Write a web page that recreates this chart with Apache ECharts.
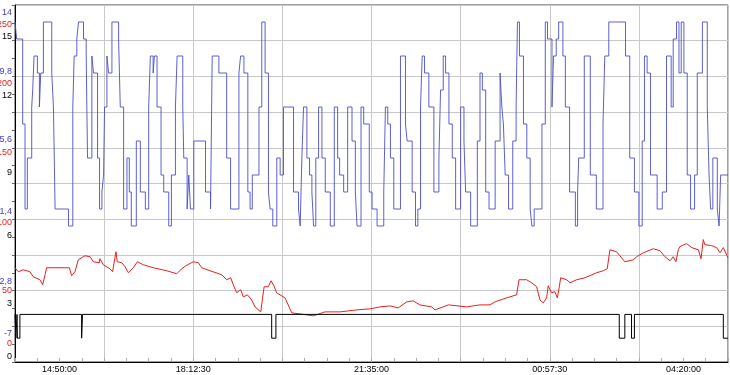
<!DOCTYPE html>
<html><head><meta charset="utf-8">
<script src="https://cdn.jsdelivr.net/npm/echarts@6/dist/echarts.min.js"></script>
<style>html,body{margin:0;padding:0;background:#fff}#c{width:730px;height:375px}</style>
</head><body><div id="c"></div>
<script>
// x is measured in minor-tick tenths (0..320, a grid column = 40)
const blueSteps = [[0,13],[0.75,12],[3.45,7],[4.5,2],[5.55,5],[7.5,8],[7.95,9],[8.55,11],[10.05,10],[10.95,8],[11.55,10],[12.75,13],[16.5,10],[17.25,8],[18,2],[24,1],[25.95,8],[26.55,11],[27.75,12],[28.5,13],[30.75,12],[31.95,11],[32.55,5],[34.5,11],[35.25,10],[37.05,5],[37.95,2],[39,3],[39.75,4],[40.2,8],[41.25,11],[42,10],[43.5,13],[46.5,12],[47.25,8],[48.75,2],[50.25,5],[51.3,3],[52.2,1],[54.45,6],[56.25,3],[58.5,2],[60,8],[60.75,11],[62,10],[62.55,11],[63.75,8],[65.55,4],[66.75,3],[69,1],[70.2,4],[72,8],[72.75,11],[75.3,8],[75.75,5],[77.25,2],[78,4],[78.75,2],[80.25,6],[85.5,3],[87.75,2],[88.5,11],[91.5,10],[95,5],[96.75,2],[100.5,10],[101.25,11],[102.75,10],[104.5,3],[105.5,2],[106.5,4],[109.5,8],[110.75,13],[112.25,10],[113.75,3],[114.5,2],[115.7,1],[117.5,5],[119,4],[120.5,8],[125,3],[127.25,2],[128,1],[128.75,5],[129.5,8],[131,5],[132.2,4],[133.25,3],[134,1],[135,5],[136.25,8],[137.75,5],[139.25,3],[141.5,1],[143.3,8],[144.8,5],[145.7,4],[147.5,3],[149.3,8],[151.25,6],[152.75,3],[153.5,1],[155.3,8],[156.5,7],[159,3],[160.25,2],[162.5,1],[165.5,3],[166.25,8],[167.3,7],[168.5,5],[170,2],[173,11],[175.25,7],[176,6],[178.25,3],[179.75,1],[180.8,2],[182,8],[182.75,11],[183.8,10],[185.75,8],[188,3],[190.25,5],[191,9],[192.2,11],[193.25,10],[194.75,7],[196.25,5],[197.75,2],[200,8],[201.5,6],[202.25,3],[204.5,1],[207.5,6],[208.7,10],[209.75,9],[211.25,3],[212.75,2],[215.5,6],[217.7,10],[218.5,8],[219.2,7],[220,4],[221.5,2],[223.4,6],[224.9,8],[225.5,13],[226.4,11],[228.2,7],[229.7,5],[231.2,2],[232,1],[233,2],[236.5,7],[238,13],[239,12],[241,8],[241.7,11],[242.9,12],[244,13],[245.9,11],[247,8],[248.9,3],[251.5,1],[252.5,3],[253,5],[255.5,11],[258.2,4],[260.9,2],[263.9,7],[264.7,11],[266.5,13],[274,11],[275.9,5],[278,3],[280,1],[281.5,6],[282.5,11],[283.7,10],[285.2,4],[288.2,2],[290.5,3],[292.4,11],[294.5,8],[295.4,12],[296.9,13],[298,10],[299,13],[300.2,10],[301.7,4],[303.2,2],[305,4],[306.2,10],[308.5,13],[310.7,8],[311.5,4],[312.2,2],[313.2,5],[315.2,2],[316,1],[316.7,4],[320,4]];

const redT = [0,1.5,3.7,6.7,8.2,11.2,12.4,13.5,14.2,24.4,25.4,26.9,28.4,31.4,33.7,35.2,37.8,38.1,39.6,42.6,43.8,45.3,45.9,47.9,49.4,50.9,53.1,54.9,57.6,62.1,68.1,72.6,74.8,76.7,80.0,82.3,83.8,87.5,92.8,95.0,96.8,98.3,99.5,101.3,102.5,104.3,106.2,107.7,110.3,111.8,113.7,114.9,116.2,117.4,121.2,124.2,127.9,133.9,139.1,145.9,153.3,159.3,163.8,168.3,172.0,175.8,178.7,181.7,187.0,188.5,194.5,202.7,208.7,213.2,215.4,220.6,221.4,225.1,226.2,229.6,231.9,234.1,235.6,237.1,238.6,239.3,240.8,242.3,243.4,244.3,244.9,247.6,249.1,252.1,255.8,261.0,264.0,265.8,267.0,270.0,273.7,277.5,279.0,282.0,286.5,289.5,291.7,294.0,295.4,296.6,297.7,298.4,301.4,303.7,306.7,307.9,308.9,309.6,312.6,314.9,316.4,317.9,320];
const redV = [66.0,63.2,64.6,63.2,59.7,57.6,54.1,61.1,66.0,66.0,60.4,63.2,71.6,74.4,73.7,70.2,69.5,72.3,68.1,65.3,63.2,77.2,70.2,69.5,66.7,62.5,66.0,70.2,68.1,66.0,63.9,61.8,65.3,67.4,70.2,69.5,66.0,63.9,61.1,57.6,59.0,52.7,48.5,50.6,45.6,47.0,43.5,38.6,35.1,52.7,52.7,56.9,53.4,48.5,44.9,34.4,33.7,32.3,35.1,35.1,36.5,37.2,38.6,39.3,37.9,42.1,42.8,40.0,38.6,36.5,40.0,38.6,40.0,40.0,42.1,44.9,46.3,47.0,57.6,57.6,55.5,52.7,43.5,41.4,44.9,53.4,48.5,49.2,44.9,52.7,59.0,57.6,55.5,57.6,59.0,62.5,63.9,65.3,78.6,77.2,70.2,71.6,73.7,76.5,79.3,77.9,73.7,70.9,73.7,70.2,78.6,80.8,82.9,80.1,78.6,72.3,85.7,82.2,81.5,80.1,76.5,80.1,73.0];

const blackT = [0,0.4,0.9,1.1,2.2,29.9,30.3,115.2,117.1,271.2,273.7,276.7,278.0,317.9,320];
const blackV = [2,1,2,1,2,1,2,1,2,1,2,1,2,1,1];

const xTickPos = [20,80,160,240,300];
const xTickLabels = ['14:50:00','18:12:30','21:35:00','00:57:30','04:20:00'];
const blueTicks = ['-7','2,8','1,4','5,6','9,8','14'];
const redTicks = ['0','50','100','150','200','250'];
const blackTicks = ['0','3','6','9','12','15'];

const FONT = '"Liberation Sans", Arial, sans-serif';
const FS = 9;

function richFor(color, shifts){
  const r = {};
  shifts.forEach((d,i)=>{
    r['s'+i] = {color:color, fontSize:FS, fontFamily:FONT,
      padding: d>=0 ? [2*d,0,0,0] : [0,0,-2*d,0]};
  });
  return r;
}
function labelAxis(labels, color, shifts){
  return {
    type:'value', position:'left', min:0, max:5, interval:1,
    axisLine:{show:false}, axisTick:{show:false}, splitLine:{show:false},
    axisLabel:{show:true, margin:3, verticalAlign:'middle', align:'right',
      formatter:(v)=>{const i=Math.round(v); return '{s'+i+'|'+labels[i]+'}';},
      rich: richFor(color, shifts)}
  };
}

const chart = echarts.init(document.getElementById('c'), null, {renderer:'canvas'});
chart.setOption({
  animation:false,
  backgroundColor:'#fff',
  grid:{left:15, right:2, top:5, bottom:13, show:true, borderColor:'#404040', borderWidth:1, containLabel:false, outerBoundsMode:'none'},
  xAxis:[
    {type:'value', min:0, max:320, interval:40,
     axisLine:{show:true, lineStyle:{color:'#000', width:1}},
     axisTick:{show:true, inside:true, length:4, lineStyle:{color:'#aaa'}},
     minorTick:{show:true, splitNumber:4, length:4, lineStyle:{color:'#aaa'}},
     splitLine:{show:true, lineStyle:{color:'#c8c8c8', width:1, type:'solid'}},
     axisLabel:{show:false}},
    {type:'value', min:0, max:320, interval:20, position:'bottom',
     axisLine:{show:false}, axisTick:{show:false}, splitLine:{show:false},
     axisLabel:{show:true, margin:3, color:'#000', fontSize:FS, fontFamily:FONT,
       formatter:(v)=>{const i=xTickPos.indexOf(Math.round(v)); return i>=0?xTickLabels[i]:'';}}}
  ],
  yAxis:[
    {type:'value', min:0, max:10, interval:1, position:'left',
     axisLine:{show:true, lineStyle:{color:'#000', width:1}},
     axisTick:{show:true, length:3, lineStyle:{color:'#666'}},
     minorTick:{show:true, splitNumber:2, length:3, lineStyle:{color:'#666'}},
     splitLine:{show:true, lineStyle:{color:'#c8c8c8', width:1, type:'solid'}},
     axisLabel:{show:false}},
    labelAxis(blueTicks, '#4040c8', [-28,-9,-8,-8,-5,8]),
    labelAxis(redTicks, '#e01c1c', [-18,0,3,5,7,20]),
    labelAxis(blackTicks, '#000000', [-5,13,16,25,19,32]),
    {type:'value', min:-7, max:14, show:false},
    {type:'value', min:0, max:250, show:false},
    {type:'value', min:0, max:15, show:false}
  ],
  series:[
    {type:'line', xAxisIndex:0, yAxisIndex:4, step:'end', showSymbol:false, symbol:'none',
     data: blueSteps, lineStyle:{color:'#4b4fc6', width:1, opacity:0.9}, z:3},
    {type:'line', xAxisIndex:0, yAxisIndex:5, showSymbol:false, symbol:'none',
     data: redT.map((t,i)=>[t, redV[i]]), lineStyle:{color:'#e8201c', width:1}, z:4},
    {type:'line', xAxisIndex:0, yAxisIndex:6, step:'end', showSymbol:false, symbol:'none',
     data: blackT.map((t,i)=>[t, blackV[i]]), lineStyle:{color:'#000', width:1}, z:5}
  ]
});
</script>
</body></html>
